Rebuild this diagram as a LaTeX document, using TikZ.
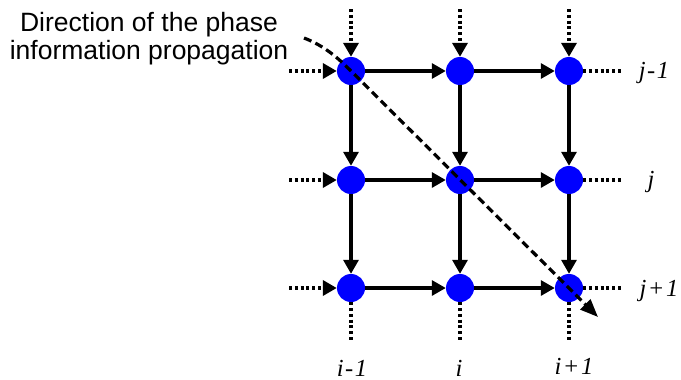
\documentclass[tikz,border=0pt]{standalone}
\usepackage{fontspec}
\setmainfont{Liberation Serif}
\newfontfamily\arialfont{Liberation Sans}
\newfontfamily\idxfont[LetterSpace=6]{Liberation Serif}
\usetikzlibrary{arrows.meta}
\begin{document}
\begin{tikzpicture}[x=1pt,y=-1pt,
  dot/.style={circle,fill=blue,minimum size=28pt,inner sep=0pt},
  tip/.style={-{Triangle[length=14pt,width=15pt]}},
  solidarrow/.style={tip,line width=3.2pt},
  dotarrow/.style={tip,line width=3.5pt,dash pattern=on 3pt off 2.8pt},
  dotline/.style={line width=3.5pt,dash pattern=on 3pt off 2.8pt},
  flowarrow/.style={-{Triangle[length=18pt,width=14pt]},line width=3.2pt,dash pattern=on 8pt off 4.5pt},
  idx/.style={font=\idxfont\fontsize{24.5}{27}\selectfont\itshape,inner sep=0pt,anchor=base},
  title/.style={font=\arialfont\fontsize{26.5}{28}\selectfont,align=center,inner sep=0pt}]
\useasboundingbox (0,0) rectangle (681,380);
% grid nodes
\foreach \c/\x in {1/351,2/460,3/569}{
  \foreach \r/\y in {1/71,2/180,3/288}{
    \node[dot] (n\c\r) at (\x,\y) {};
  }
  \coordinate (t\c) at (\x,9);
  \coordinate (b\c) at (\x,341);
}
\foreach \r/\y in {1/71,2/180,3/288}{
  \coordinate (l\r) at (289,\y);
  \coordinate (r\r) at (621,\y);
}
% solid arrows
\foreach \r in {1,2,3}{
  \draw[solidarrow] (n1\r) -- (n2\r);
  \draw[solidarrow] (n2\r) -- (n3\r);
}
\foreach \c in {1,2,3}{
  \draw[solidarrow] (n\c1) -- (n\c2);
  \draw[solidarrow] (n\c2) -- (n\c3);
}
% dotted inputs and outputs
\foreach \c in {1,2,3}{
  \draw[dotarrow] (t\c) -- (n\c1);
  \draw[dotline] (n\c3) -- (b\c);
}
\foreach \r in {1,2,3}{
  \draw[dotarrow] (l\r) -- (n1\r);
  \draw[dotline] (n3\r) -- (r\r);
}
% labels
\node[idx] (lj1) at (654,78) {j-1};
\node[idx] (lj2) at (651,187) {j};
\node[idx] (lj3) at (659,296) {j+1};
\node[idx] (li1) at (352,376) {i-1};
\node[idx] (li2) at (459,376) {i};
\node[idx] (li3) at (574,374) {i+1};
% title
\node[title] (ttl) at (149,39) {Direction of the phase\\information propagation};
% propagation direction
\coordinate (fs) at (304,38);
\coordinate (fe) at (598,317);
\draw[flowarrow] (fs) .. controls (325,46) and (339,59) .. (n11.center) -- (fe);
\end{tikzpicture}
\end{document}
